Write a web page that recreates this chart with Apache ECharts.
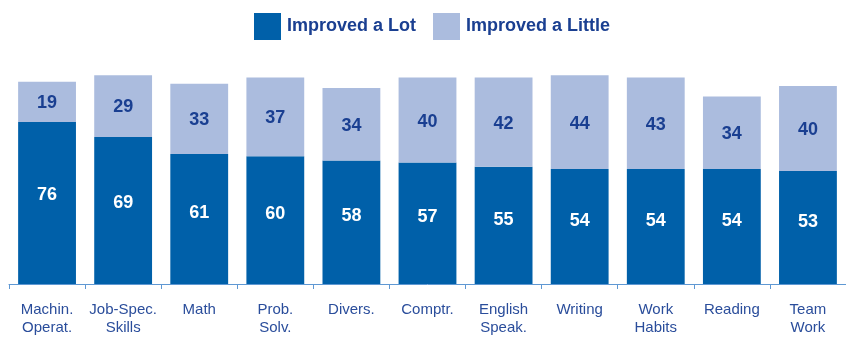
<!DOCTYPE html>
<html>
<head>
<meta charset="utf-8">
<script src="https://cdn.jsdelivr.net/npm/echarts@6/dist/echarts.min.js"></script>
<style>
  html, body { margin: 0; padding: 0; background: #ffffff; }
  #chart { width: 846px; height: 337px; }
</style>
</head>
<body>
<div id="chart"></div>
<script>
// Skill areas and the share of respondents reporting improvement (%)
const categories = ['Machin.\nOperat.', 'Job-Spec.\nSkills', 'Math', 'Prob.\nSolv.', 'Divers.',
  'Comptr.', 'English\nSpeak.', 'Writing', 'Work\nHabits', 'Reading', 'Team\nWork'];
const improvedLot = [76, 69, 61, 60, 58, 57, 55, 54, 54, 54, 53];
const improvedLittle = [19, 29, 33, 37, 34, 40, 42, 44, 43, 34, 40];
const seriesNames = ['Improved a Lot', 'Improved a Little'];

const darkBlue = '#0060a9';
const lightBlue = '#abbcde';
const navy = '#1a3f91';
const axisBlue = '#5f98d3';
const fontStack = '"Liberation Sans Narrow", "Liberation Sans", Arial, sans-serif';

const chart = echarts.init(document.getElementById('chart'));
chart.setOption({
  animation: false,
  legend: {
    top: 8,
    left: 249,
    icon: 'rect',
    itemWidth: 27,
    itemHeight: 27,
    itemGap: 17,
    textStyle: { color: navy, fontSize: 18, fontWeight: 'bold', fontFamily: fontStack, padding: [0, 0, 0, 1] },
    data: seriesNames
  },
  grid: { left: 9, width: 839, top: 71, bottom: 51, containLabel: false },
  xAxis: {
    type: 'category',
    data: categories,
    axisLine: { lineStyle: { color: axisBlue, width: 1 } },
    axisTick: { show: true, alignWithLabel: false, length: 5, lineStyle: { color: axisBlue } },
    axisLabel: {
      color: '#2a4d9b', fontSize: 15, fontFamily: fontStack,
      lineHeight: 18, margin: 17, interval: 0
    }
  },
  yAxis: { type: 'value', min: 0, max: 100, show: false, splitLine: { show: false } },
  series: [
    {
      name: seriesNames[0], type: 'bar', stack: 'total', data: improvedLot,
      barCategoryGap: '24%',
      itemStyle: { color: darkBlue },
      label: { show: true, position: ['50%', '45%'], align: 'center', verticalAlign: 'middle',
        color: '#ffffff', fontSize: 18, fontWeight: 'bold', fontFamily: fontStack }
    },
    {
      name: seriesNames[1], type: 'bar', stack: 'total', data: improvedLittle,
      barCategoryGap: '24%',
      itemStyle: { color: lightBlue },
      label: { show: true, position: ['50%', '52%'], align: 'center', verticalAlign: 'middle',
        color: navy, fontSize: 18, fontWeight: 'bold', fontFamily: fontStack }
    }
  ]
});
</script>
</body>
</html>
